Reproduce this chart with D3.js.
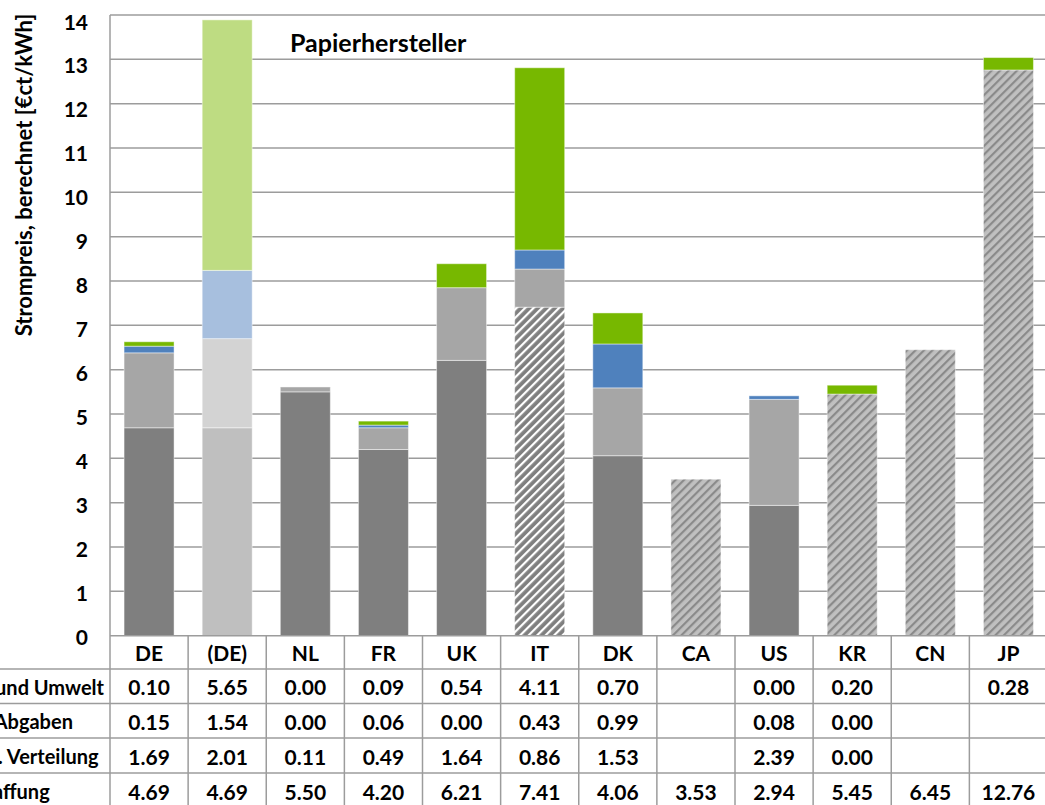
<!DOCTYPE html>
<html>
<head>
<meta charset="utf-8">
<script src="https://cdn.jsdelivr.net/npm/d3@7"></script>
<style>
  html, body { margin: 0; padding: 0; background: #ffffff; overflow: hidden; }
  svg { display: block; font-family: Lato, "Open Sans", sans-serif; font-weight: bold; }
</style>
</head>
<body>
<svg id="chart" width="1045" height="805"></svg>
<script>
// Countries / columns
const countries = ["DE", "(DE)", "NL", "FR", "UK", "IT", "DK", "CA", "US", "KR", "CN", "JP"];

// Price components in €ct/kWh (null = not reported)
const beschaffung = [4.69, 4.69, 5.50, 4.20, 6.21, 7.41, 4.06, 3.53, 2.94, 5.45, 6.45, 12.76];
const netz        = [1.69, 2.01, 0.11, 0.49, 1.64, 0.86, 1.53, null, 2.39, 0.00, null, null];
const abgaben     = [0.15, 1.54, 0.00, 0.06, 0.00, 0.43, 0.99, null, 0.08, 0.00, null, null];
const klima       = [0.10, 5.65, 0.00, 0.09, 0.54, 4.11, 0.70, null, 0.00, 0.20, null, 0.28];

// Row labels of the data table (top row = top of the stack)
const rowLabels = ["Klima und Umwelt", "Sonst Abgaben", "Netz u. Verteilung", "Beschaffung"];

// Y axis ticks
const yTicks = [0, 1, 2, 3, 4, 5, 6, 7, 8, 9, 10, 11, 12, 13, 14];

const title = "Papierhersteller";
const yTitle = "Strompreis, berechnet [€ct/kWh]";

// Fill style per country for the procurement segment
const procurementStyle = ["solid", "light", "solid", "solid", "solid", "hatchDark", "solid", "hatchLight", "solid", "hatchLight", "hatchLight", "hatchLight"];

// Colours of the series (normal and the lighter variant)
const colors = {
  beschaffung: "#7f7f7f", netz: "#a6a6a6", abgaben: "#4f81bd", klima: "#77b800"
};
const lightColors = {
  beschaffung: "#bfbfbf", netz: "#d3d3d3", abgaben: "#a7bfde", klima: "#bedc82"
};

const svg = d3.select("#chart");

const plotLeft = 110, plotRight = 1047.5, plotTop = 15, zeroY = 635.7;
const x = d3.scaleBand().domain(countries).range([plotLeft, plotRight]).paddingInner(0.36).paddingOuter(0.18);
const y = d3.scaleLinear().domain([0, 14]).range([zeroY, plotTop]);
// tick labels sit on a slightly compressed scale
const yLab = d3.scaleLinear().domain([0, 14]).range([636.7, 21]);

// Hatch patterns
const defs = svg.append("defs");
function hatch(id, bg, stripe, sw) {
  const p = defs.append("pattern")
    .attr("id", id).attr("patternUnits", "userSpaceOnUse")
    .attr("width", 6).attr("height", 6)
    .attr("patternTransform", "rotate(45)");
  p.append("rect").attr("width", 6).attr("height", 6).attr("fill", bg);
  p.append("rect").attr("x", 0).attr("width", sw).attr("height", 6).attr("fill", stripe);
}
hatch("hatchDark", "#7f7f7f", "#ffffff", 2.2);
hatch("hatchLight", "#c0c0c0", "#8a8a8a", 2.2);

// Gridlines
svg.append("g").selectAll("line").data(yTicks.filter(d => d > 0)).join("line")
  .attr("x1", plotLeft).attr("x2", 1045)
  .attr("y1", d => y(d)).attr("y2", d => y(d))
  .attr("stroke", "#9c9c9c").attr("stroke-width", 1.5);

// Y tick labels
svg.append("g").selectAll("text").data(yTicks).join("text")
  .attr("x", 88).attr("y", d => yLab(d))
  .attr("text-anchor", "end").attr("dominant-baseline", "central")
  .attr("font-size", 21).attr("fill", "#000")
  .text(d => d);

// Y axis title
svg.append("text")
  .attr("transform", `translate(23,${175}) rotate(-90)`)
  .attr("text-anchor", "middle").attr("dominant-baseline", "central")
  .attr("font-size", 22).text(yTitle);

// Stacked bars
const series = [
  { key: "beschaffung", values: beschaffung },
  { key: "netz", values: netz },
  { key: "abgaben", values: abgaben },
  { key: "klima", values: klima }
];
const barG = svg.append("g");
countries.forEach((c, i) => {
  let base = 0;
  series.forEach(s => {
    const v = s.values[i];
    if (v == null || v <= 0) return;
    let fill;
    if (s.key === "beschaffung") {
      const st = procurementStyle[i];
      fill = st === "solid" ? colors.beschaffung
           : st === "light" ? lightColors.beschaffung
           : `url(#${st})`;
    } else {
      fill = procurementStyle[i] === "light" ? lightColors[s.key] : colors[s.key];
    }
    barG.append("rect")
      .attr("x", x(c)).attr("width", x.bandwidth())
      .attr("y", y(base + v)).attr("height", y(base) - y(base + v))
      .attr("fill", fill)
      .attr("stroke", "rgba(255,255,255,0.45)").attr("stroke-width", 1);
    base += v;
  });
});

// Data table
const step = x.step();
const tableX0 = plotLeft, tableX1 = plotRight;
const rowLines = [zeroY, 669, 703.5, 738, 773, 808];
const tg = svg.append("g");
// horizontal lines
tg.selectAll("line.h").data(rowLines).join("line")
  .attr("x1", (d, i) => i === 0 ? tableX0 : 0).attr("x2", tableX1)
  .attr("y1", d => d).attr("y2", d => d)
  .attr("stroke", "#9c9c9c").attr("stroke-width", 1.5);
// vertical lines (axis line included)
const vLines = d3.range(countries.length + 1).map(k => tableX0 + k * step);
tg.selectAll("line.v").data(vLines).join("line")
  .attr("x1", d => d).attr("x2", d => d)
  .attr("y1", (d, i) => i === 0 ? plotTop : zeroY).attr("y2", 808)
  .attr("stroke", "#9c9c9c").attr("stroke-width", 1.5);

// header: country names
tg.selectAll("text.c").data(countries).join("text")
  .attr("x", d => x(d) + x.bandwidth() / 2).attr("y", (rowLines[0] + rowLines[1]) / 2 + 0.5)
  .attr("text-anchor", "middle").attr("dominant-baseline", "central")
  .attr("font-size", 21).text(d => d);

// value rows (top row = top of stack); row headers are left aligned
const rows = [klima, abgaben, netz, beschaffung];
const labelG = tg.append("g");
const labelTexts = rows.map((vals, r) => {
  const yc = (rowLines[r + 1] + rowLines[r + 2]) / 2 + 0.5;
  countries.forEach((c, i) => {
    if (vals[i] == null) return;
    tg.append("text")
      .attr("x", x(c) + x.bandwidth() / 2).attr("y", yc)
      .attr("text-anchor", "middle").attr("dominant-baseline", "central")
      .attr("font-size", 21).text(vals[i].toFixed(2));
  });
  return labelG.append("text")
    .attr("y", yc).attr("dominant-baseline", "central")
    .attr("font-size", 20).text(rowLabels[r]);
});
// header column: first label ends just before the table's left edge
const labelStart = 104 - labelTexts[0].node().getComputedTextLength();
labelTexts.forEach(t => t.attr("x", labelStart));

// Chart title
svg.append("text")
  .attr("x", 290).attr("y", 42)
  .attr("dominant-baseline", "central")
  .attr("font-size", 25).text(title);
</script>
</body>
</html>
